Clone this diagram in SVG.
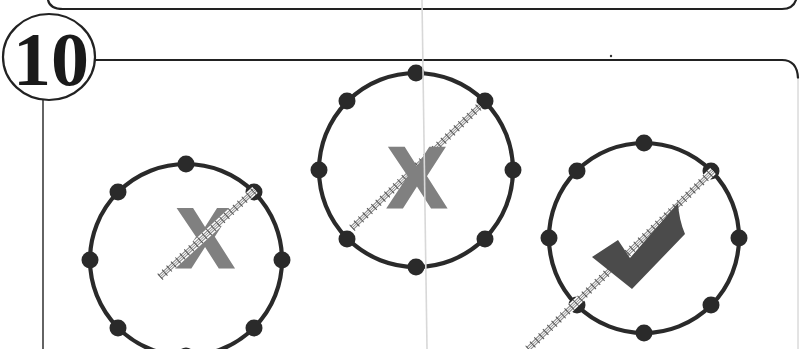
<svg xmlns="http://www.w3.org/2000/svg" xmlns:xlink="http://www.w3.org/1999/xlink" width="800" height="349" viewBox="0 0 800 349">
<style>
.frame{fill:none;stroke:#222;stroke-width:2.2;stroke-linecap:round}
.thin{fill:none;stroke:#222;stroke-width:1.4}
.ring{fill:none;stroke:#2a2a2a;stroke-width:4.2}
.dot{fill:#2a2a2a}
.xmark{font-family:"Liberation Sans",Arial,sans-serif;font-weight:bold;fill:#808080;stroke:#808080;stroke-width:3;stroke-linejoin:miter;text-anchor:middle}
.num{font-family:"Liberation Serif","Times New Roman",serif;font-weight:bold;fill:#1a1a1a;text-anchor:middle}
.wbg{stroke:#fff;stroke-width:8;fill:none}
.wedge{stroke:#888;stroke-width:5;fill:none}
.winner{stroke:#f6f6f6;stroke-width:3;fill:none}
.wbarb{stroke:#555;stroke-width:8;stroke-dasharray:1 5;fill:none}
.wcore{stroke:#666;stroke-width:0.7;fill:none}
.check{fill:#4b4b4b}
</style>
<defs>
<line id="wire1" x1="160" y1="277" x2="255" y2="190"/>
<line id="wire2" x1="352" y1="228" x2="480" y2="106"/>
<line id="wire3" x1="528" y1="349" x2="713" y2="171"/>
</defs>

<g id="frames">
<path class="frame" d="M48 0 Q50 9 63 9 L782 9 Q793 9 796 0"/>
<ellipse class="frame" cx="49" cy="57" rx="46" ry="43" stroke-width="1.6"/>
<path class="frame" d="M95 60 L782 60 Q797 60 798 78"/>
<line class="thin" x1="43" y1="100" x2="43" y2="349"/>
<line x1="798" y1="78" x2="798" y2="349" stroke="#c8c8c8" stroke-width="1"/>
<circle cx="611" cy="56" r="1.2" fill="#333"/>
</g>

<g id="label-10">
<text class="num" x="51" y="85" font-size="76">10</text>
</g>

<g id="circle1">
<circle class="ring" cx="186" cy="260" r="96"/>
<g class="dot">
<circle cx="186" cy="164" r="8.5"/><circle cx="254" cy="192" r="8.5"/><circle cx="282" cy="260" r="8.5"/><circle cx="254" cy="328" r="8.5"/>
<circle cx="186" cy="356" r="8.5"/><circle cx="118" cy="328" r="8.5"/><circle cx="90" cy="260" r="8.5"/><circle cx="118" cy="192" r="8.5"/>
</g>
<text class="xmark" x="205" y="267" font-size="84">X</text>
</g>

<g id="circle2">
<circle class="ring" cx="416" cy="170" r="97"/>
<g class="dot">
<circle cx="416" cy="73" r="8.5"/><circle cx="485" cy="101" r="8.5"/><circle cx="513" cy="170" r="8.5"/><circle cx="485" cy="239" r="8.5"/>
<circle cx="416" cy="267" r="8.5"/><circle cx="347" cy="239" r="8.5"/><circle cx="319" cy="170" r="8.5"/><circle cx="347" cy="101" r="8.5"/>
</g>
</g>

<g id="circle3">
<circle class="ring" cx="644" cy="238" r="95"/>
<g class="dot">
<circle cx="644" cy="143" r="8.5"/><circle cx="711" cy="171" r="8.5"/><circle cx="739" cy="238" r="8.5"/><circle cx="711" cy="305" r="8.5"/>
<circle cx="644" cy="333" r="8.5"/><circle cx="577" cy="305" r="8.5"/><circle cx="549" cy="238" r="8.5"/><circle cx="577" cy="171" r="8.5"/>
</g>
</g>

<g id="wires">
<use xlink:href="#wire2" class="wbg"/><use xlink:href="#wire2" class="wedge"/><use xlink:href="#wire2" class="winner"/><use xlink:href="#wire2" class="wbarb"/><use xlink:href="#wire2" class="wcore"/>
<use xlink:href="#wire3" class="wbg"/><use xlink:href="#wire3" class="wedge"/><use xlink:href="#wire3" class="winner"/><use xlink:href="#wire3" class="wbarb"/><use xlink:href="#wire3" class="wcore"/>
</g>

<g id="mark2">
<text class="xmark" x="417" y="207" font-size="86">X</text>
</g>
<g id="mark3">
<path class="check" d="M592 257 L618 240 L630 258 L678 203 Q679 220 685 234 L632 289 Z"/>
</g>

<g id="wire-over-1">
<use xlink:href="#wire1" class="wbg"/><use xlink:href="#wire1" class="wedge"/><use xlink:href="#wire1" class="winner"/><use xlink:href="#wire1" class="wbarb"/><use xlink:href="#wire1" class="wcore"/>
</g>

<line x1="422" y1="0" x2="427" y2="349" stroke="#d8d8d8" stroke-width="1.6"/>
</svg>
